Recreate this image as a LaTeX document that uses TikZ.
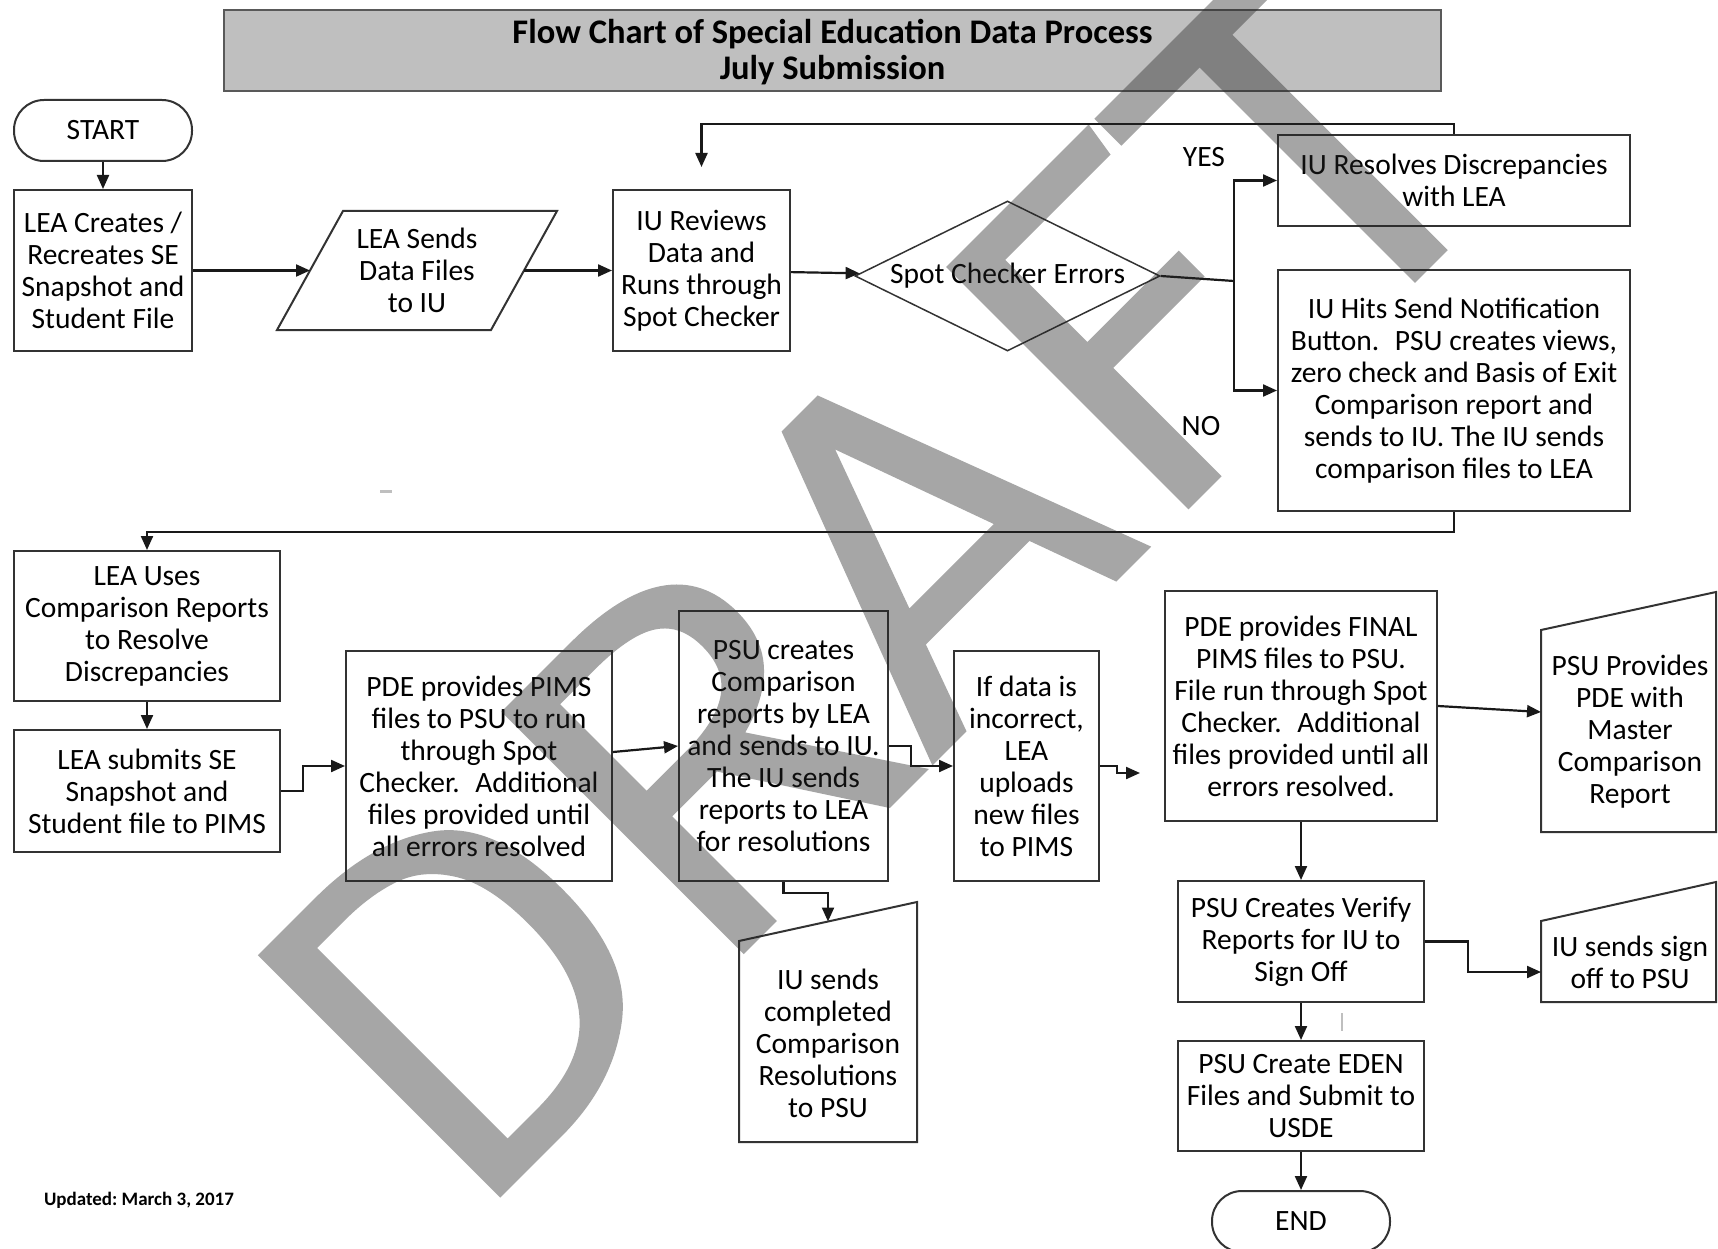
\documentclass[tikz,border=0pt]{standalone}
\usepackage{fontspec}
\setmainfont{Carlito}
\newfontfamily\wmfont{Fira Sans Light}[FakeBold=2.6]
\usepackage{graphicx}
\usetikzlibrary{arrows.meta,calc,shapes.geometric}
\definecolor{hdrgray}{HTML}{BFBFBF}
\definecolor{wmgray}{HTML}{262626}

\begin{document}
\begin{tikzpicture}[x=1pt,y=-1pt,
  font=\fontsize{29.5}{32}\selectfont,
  box/.style={draw=black!80,line width=2pt,fill=white,align=center,inner sep=0pt},
  term/.style={box,rounded corners=30pt},
  arr/.style={draw=black!90,line width=2.2pt,-{Triangle[length=14pt,width=12pt]}},
  ln/.style={draw=black!90,line width=2.2pt},
  outline/.style={draw=black!80,line width=2pt,fill=white},
  wmark/.style={rotate=45,anchor=base west,inner sep=0pt,text=wmgray,font=\wmfont\fontsize{482}{482}\selectfont}]
\useasboundingbox (0,0) rectangle (1718,1249);

% title bar
\node[box,draw=black!65,line width=2.5pt,fill=hdrgray,minimum width=1217,minimum height=81] (title) at (832.5,50.5) {};
\node[align=center,font=\bfseries\fontsize{34.5}{36}\selectfont] (titletext) at (832.5,52) {Flow Chart of Special Education Data Process\\July Submission};

% top row
\node[term,minimum width=178,minimum height=61] (start) at (103,130.5) {START};
\node[box,minimum width=178,minimum height=161] (leacreate) at (103,270.5) {LEA Creates /\\Recreates SE\\Snapshot and\\Student File};
\coordinate (ls1) at (343,211);
\coordinate (ls2) at (557,211);
\coordinate (ls3) at (491,330);
\coordinate (ls4) at (277,330);
\draw[outline] (ls1) -- (ls2) -- (ls3) -- (ls4) -- cycle;
\node[align=center] (leasends) at (417,270.5) {LEA Sends\\Data Files\\to IU};
\coordinate (lsin) at ($(ls4)!0.5!(ls1)$);
\coordinate (lsout) at ($(ls2)!0.5!(ls3)$);
\node[box,minimum width=177,minimum height=161] (iureview) at (701.5,270.5) {IU Reviews\\Data and\\Runs through\\Spot Checker};
\node[box,shape=diamond,aspect=2,line width=1.5pt,minimum width=305,minimum height=150] (spot) at (1007.5,276) {Spot Checker Errors};
\node[box,minimum width=352,minimum height=91] (iuresolve) at (1454,180.5) {IU Resolves Discrepancies\\with LEA};
\node[box,minimum width=352,minimum height=241] (iuhits) at (1454,390.5) {IU Hits Send Notification\\Button.~ PSU creates views,\\zero check and Basis of Exit\\Comparison report and\\sends to IU. The IU sends\\comparison files to LEA};
\node (yes) at (1204,157) {YES};
\node (no) at (1201,426) {NO};
\coordinate (fork) at (1234,281);

\draw[arr] (start) -- (leacreate);
\draw[arr] (leacreate) -- (lsin);
\draw[arr] (lsout) -- (iureview);
\draw[arr] (iureview) -- (spot);
\draw[ln] (spot.east) -- (fork);
\draw[arr] (fork) |- (iuresolve);
\draw[arr] (fork) |- (iuhits);
\draw[arr,shorten >=22pt] (iuresolve.north) -- ++(0,-10) -| (iureview.north);

% lower part
\node[box,minimum width=266,minimum height=150] (leauses) at (147,626) {LEA Uses\\Comparison Reports\\to Resolve\\Discrepancies};
\node[box,minimum width=266,minimum height=122] (leasubmit) at (147,791) {LEA submits SE\\Snapshot and\\Student file to PIMS};
\node[box,minimum width=266,minimum height=230] (pdepims) at (479,766) {PDE provides PIMS\\files to PSU to run\\through Spot\\Checker.~ Additional\\files provided until\\all errors resolved};
\node[box,minimum width=209,minimum height=270] (psucreates) at (783.5,746) {PSU creates\\Comparison\\reports by LEA\\and sends to IU.\\The IU sends\\reports to LEA\\for resolutions};
\coordinate (ic1) at (739,941);
\coordinate (ic2) at (917,902);
\coordinate (ic3) at (917,1142);
\coordinate (ic4) at (739,1142);
\draw[outline] (ic1) -- (ic2) -- (ic3) -- (ic4) -- cycle;
\node[align=center] (iucomp) at (828,1043) {IU sends\\completed\\Comparison\\Resolutions\\to PSU};
\coordinate (icin) at ($(ic1)!0.5!(ic2)$);
\node[box,minimum width=145,minimum height=230] (ifdata) at (1026.5,766) {If data is\\incorrect,\\LEA\\uploads\\new files\\to PIMS};
\coordinate (loose) at (1140,773);
\node[box,minimum width=272,minimum height=230] (pdefinal) at (1301,706) {PDE provides FINAL\\PIMS files to PSU.\\File run through Spot\\Checker.~ Additional\\files provided until all\\errors resolved.};
\coordinate (pp1) at (1541,630);
\coordinate (pp2) at (1716,592);
\coordinate (pp3) at (1716,832);
\coordinate (pp4) at (1541,832);
\draw[outline] (pp1) -- (pp2) -- (pp3) -- (pp4) -- cycle;
\node[align=center] (psuprov) at (1630,732) {PSU Provides\\PDE with\\Master\\Comparison\\Report};
\coordinate (ppin) at (1541,712);
\node[box,minimum width=246,minimum height=121] (psuverify) at (1301,941.5) {PSU Creates Verify\\Reports for IU to\\Sign Off};
\coordinate (is1) at (1541,921);
\coordinate (is2) at (1716,882);
\coordinate (is3) at (1716,1002);
\coordinate (is4) at (1541,1002);
\draw[outline] (is1) -- (is2) -- (is3) -- (is4) -- cycle;
\node[align=center] (iusign) at (1630,962) {IU sends sign\\off to PSU};
\coordinate (isin) at (1541,972);
\node[box,minimum width=246,minimum height=110] (eden) at (1301,1096) {PSU Create EDEN\\Files and Submit to\\USDE};
\node[term,minimum width=178,minimum height=61] (finish) at (1301,1221.5) {END};
\node[font=\bfseries\fontsize{19}{21}\selectfont] (updated) at (139,1200) {Updated:\ March 3, 2017};

\draw[arr] (iuhits.south) -- ++(0,20) -| (leauses.north);
\draw[arr] (leauses) -- (leasubmit);
\draw[arr] (leasubmit.east) -- ++(22,0) |- (pdepims.west);
\draw[arr] ([yshift=14pt]pdepims.east) -- (psucreates.west);
\draw[arr] (psucreates.south) -- ++(0,11) -| (icin);
\draw[arr] (psucreates.east) -- ++(22,0) |- (ifdata.west);
\draw[arr] (ifdata.east) -- ++(17,0) |- (loose);
\draw[arr] (pdefinal.east) -- (ppin);
\draw[arr] (pdefinal) -- (psuverify);
\draw[arr] (psuverify.east) -- ++(43,0) |- (isin);
\draw[arr] (psuverify) -- (eden);
\draw[arr] (eden) -- (finish);

% stray marks
\draw[black!25,line width=3pt] (380,491) -- (392,491);
\draw[black!25,line width=1.5pt] (1342,1013) -- (1342,1031);

% watermark
\begin{scope}[transparency group,opacity=0.41]
\node[wmark] (draft) at (458,1231) {\scalebox{1.13}[1]{DRAFT}};
\end{scope}
\end{tikzpicture}
\end{document}
